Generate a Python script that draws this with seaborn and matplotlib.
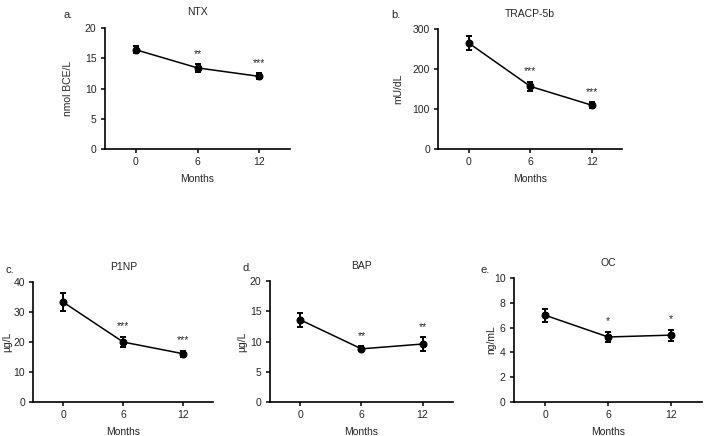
import numpy as np
import pandas as pd
import seaborn as sns
import matplotlib.pyplot as plt

sns.set_style("ticks")
plt.rcParams['font.family'] = ['Liberation Sans', 'DejaVu Sans']

months = [0, 6, 12]

ntx_mean = [16.4, 13.4, 12.0]
ntx_err = [0.6, 0.6, 0.5]
tracp_mean = [265, 157, 110]
tracp_err = [17, 12, 7]
p1np_mean = [33.3, 20.0, 16.1]
p1np_err = [3.0, 1.8, 1.0]
bap_mean = [13.6, 8.8, 9.6]
bap_err = [1.2, 0.4, 1.1]
oc_mean = [7.0, 5.25, 5.4]
oc_err = [0.5, 0.4, 0.45]

panels = [
    ("a.", "NTX", "nmol BCE/L", ntx_mean, ntx_err, ["", "**", "***"], (0, 20), 5),
    ("b.", "TRACP-5b", "mU/dL", tracp_mean, tracp_err, ["", "***", "***"], (0, 300), 100),
    ("c.", "P1NP", "\u00b5g/L", p1np_mean, p1np_err, ["", "***", "***"], (0, 40), 10),
    ("d.", "BAP", "\u00b5g/L", bap_mean, bap_err, ["", "**", "**"], (0, 20), 5),
    ("e.", "OC", "ng/mL", oc_mean, oc_err, ["", "*", "*"], (0, 10), 2),
]

# axes boxes in figure fractions [left, bottom, width, height]
boxes = [
    [0.148, 0.658, 0.262, 0.278],
    [0.619, 0.658, 0.260, 0.275],
    [0.047, 0.078, 0.254, 0.275],
    [0.381, 0.078, 0.259, 0.277],
    [0.726, 0.078, 0.266, 0.284],
]
# pixel offsets from the axes corner: y-label x, tag (x, y)
ylab_off = [32, 35, 21, 22, 18]
tag_off = [(-37, 13), (-42, 14), (-23, 12), (-23, 13), (-29, 8)]

W = 708

fig = plt.figure(figsize=(7.08, 4.36), dpi=100)

for (tag, title, ylab, mean, err, stars, ylim, step), box, yo, to in zip(panels, boxes, ylab_off, tag_off):
    ax = fig.add_axes(box)
    df = pd.DataFrame({"Months": months, "value": mean})
    ax.errorbar(months, mean, yerr=err, fmt="none", ecolor="black",
                elinewidth=1.4, capsize=2.5, capthick=1.4, zorder=3)
    sns.lineplot(data=df, x="Months", y="value", marker="o", color="black",
                 markersize=5, linewidth=1.1, markeredgecolor="black", ax=ax, zorder=4)
    for m, v, e, s in zip(months, mean, err, stars):
        if s:
            ax.annotate(s, (m, v + e), xytext=(0, 4), textcoords="offset points",
                        ha="center", va="bottom", fontsize=7.5)
    ax.set_xlim(-3, 15)
    ax.set_ylim(*ylim)
    ax.set_xticks(months)
    ax.set_yticks(np.arange(ylim[0], ylim[1] + step / 2, step))
    ax.set_xlabel("Months", fontsize=7.5, labelpad=5)
    ax.set_ylabel(ylab, fontsize=7.5)
    ax.yaxis.set_label_coords(-yo / (box[2] * W), 0.5)
    ax.set_title(title, fontsize=7.5, pad=9)
    ax.tick_params(labelsize=7.5, width=1.1, length=3, color="black", pad=3)
    for sp in ["left", "bottom"]:
        ax.spines[sp].set_linewidth(1.2)
        ax.spines[sp].set_color("black")
    sns.despine(ax=ax)
    ax.annotate(tag, (0, 1), xycoords="axes fraction", xytext=to,
                textcoords="offset pixels", fontsize=8, ha="center", va="center")

fig.savefig("out.png", dpi=100)
